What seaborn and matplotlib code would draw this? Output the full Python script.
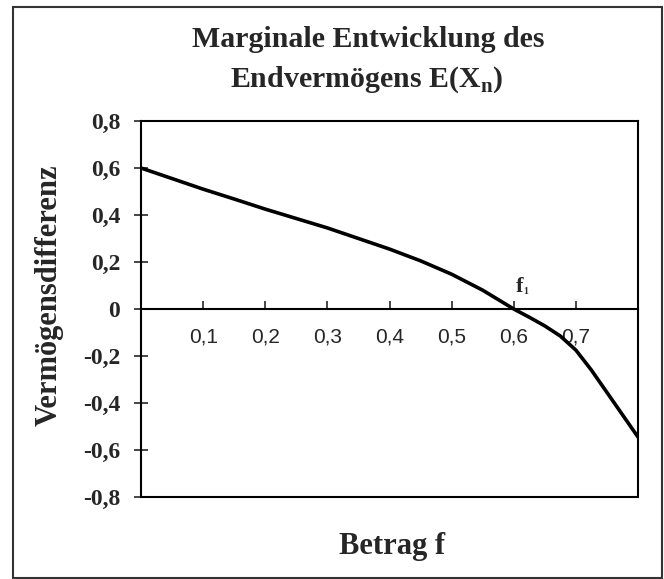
import numpy as np
import pandas as pd
import seaborn as sns
import matplotlib.pyplot as plt
from matplotlib.patches import Rectangle

# Values
betrag_f = [0.0, 0.05, 0.1, 0.15, 0.2, 0.25, 0.3, 0.35, 0.4, 0.45, 0.5, 0.55,
            0.6, 0.625, 0.65, 0.675, 0.7, 0.725, 0.75, 0.775, 0.8]
differenz = [0.60, 0.555, 0.51, 0.468, 0.425, 0.385, 0.345, 0.30, 0.255, 0.205, 0.148, 0.08,
             0.0, -0.035, -0.072, -0.115, -0.175, -0.26, -0.355, -0.45, -0.545]
x_ticks = [0.1, 0.2, 0.3, 0.4, 0.5, 0.6, 0.7]
y_ticks = [-0.8, -0.6, -0.4, -0.2, 0.0, 0.2, 0.4, 0.6, 0.8]

df = pd.DataFrame({"Betrag f": betrag_f, "Vermögensdifferenz": differenz})

sns.set_style("white")
plt.rcParams["font.family"] = ["Liberation Serif", "DejaVu Serif"]
plt.rcParams["mathtext.fontset"] = "custom"
plt.rcParams["mathtext.bf"] = "Liberation Serif:bold"
plt.rcParams["mathtext.rm"] = "Liberation Serif:bold"

fig = plt.figure(figsize=(6.64, 5.79), dpi=100)
ax = fig.add_axes([141 / 664, 1 - 497 / 579, 497 / 664, 376 / 579])

# The curve
sns.lineplot(data=df, x="Betrag f", y="Vermögensdifferenz", ax=ax,
             color="black", linewidth=2.6)

ax.set_xlim(0, 0.8)
ax.set_ylim(-0.8, 0.8)

# Frame plus x axis through zero
for s in ["left", "right", "top", "bottom"]:
    ax.spines[s].set_color("black")
    ax.spines[s].set_linewidth(1.5)
ax.spines["bottom"].set_position(("data", 0))
ax.axhline(-0.8, color="black", linewidth=1.5, clip_on=False)

ax.set_xticks(x_ticks)
ax.set_xticklabels([f"{v:.1f}".replace(".", ",") for v in x_ticks],
                   fontfamily="Liberation Sans", fontsize=15)
ax.set_yticks(y_ticks)
ax.set_yticklabels(["0" if v == 0 else f"{v:.1f}".replace(".", ",") for v in y_ticks],
                   fontsize=17, fontweight="bold")
ax.tick_params(axis="x", direction="in", length=6, width=1.2, pad=13, bottom=True)
ax.tick_params(axis="y", direction="inout", length=10, width=1.2, pad=10, left=True)
ax.set_xlabel("")
ax.set_ylabel("")

# f1 marker label
ax.text(0.603, 0.072, "f", fontsize=16, fontweight="bold", ha="left", va="baseline")
ax.text(0.616, 0.062, "1", fontsize=7, fontweight="bold", ha="left", va="baseline")

# Titles and axis labels
fig.text(368 / 664, 1 - 47 / 579, "Marginale Entwicklung des",
         ha="center", va="baseline", fontsize=21.5, fontweight="bold")
fig.text(367 / 664, 1 - 87 / 579, r"Endvermögens E(X$_{\mathbf{n}}$)",
         ha="center", va="baseline", fontsize=21.5, fontweight="bold")
fig.text(49 / 664, 1 - 295 / 579, "Vermögensdifferenz", rotation=90,
         ha="center", va="center", fontsize=22, fontweight="bold")
fig.text(392 / 664, 1 - 554 / 579, "Betrag f",
         ha="center", va="baseline", fontsize=22, fontweight="bold")

# Outer border of the chart area
fig.patches.append(Rectangle((13 / 664, 1 - 578 / 579), 649 / 664, 571 / 579,
                             transform=fig.transFigure, fill=False,
                             edgecolor="#333333", linewidth=1.5))

plt.savefig("out.png", dpi=100)
